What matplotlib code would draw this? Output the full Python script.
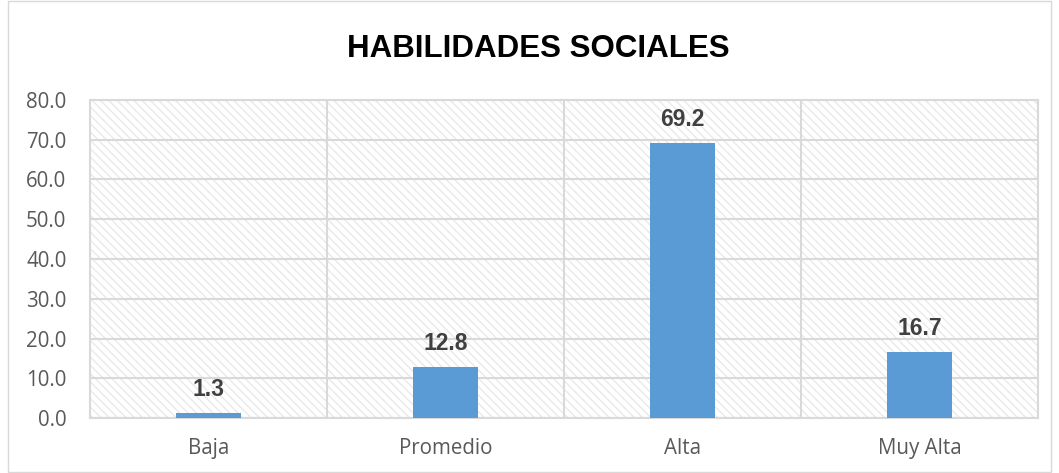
import matplotlib
matplotlib.use("Agg")
import matplotlib.pyplot as plt
from matplotlib.patches import Rectangle

categories = ["Baja", "Promedio", "Alta", "Muy Alta"]
values = [1.3, 12.8, 69.2, 16.7]
yticks = [0, 10, 20, 30, 40, 50, 60, 70, 80]
title = "HABILIDADES SOCIALES"

fig = plt.figure(figsize=(10.59, 4.73), dpi=100)
fig.patches.append(Rectangle((0.008, 0.002), 0.984, 0.996, transform=fig.transFigure,
                             fill=False, edgecolor="#d9d9d9", linewidth=1.0))
ax = fig.add_axes([0.085, 0.116, 0.895, 0.673])

grid_c = "#d9d9d9"
ax.set_xlim(-0.5, len(categories) - 0.5)
ax.set_ylim(0, 80)

bg = Rectangle((0, 0), 1, 1, transform=ax.transAxes, facecolor="white",
               edgecolor="#e9e9e9", hatch="\\\\\\\\", linewidth=0, zorder=0)
ax.add_patch(bg)
ax.patch.set_visible(False)

x = list(range(len(categories)))
ax.bar(x, values, width=0.275, color="#5B9BD5", zorder=3)

for xi, v in zip(x, values):
    ax.text(xi, v + 3.0, f"{v:.1f}", ha="center", va="bottom", fontsize=16.5,
            fontweight="bold", color="#404040", family="Liberation Sans", zorder=4)

for yv in yticks:
    ax.axhline(yv, color=grid_c, linewidth=1.5, zorder=1)
for b in [0.5, 1.5, 2.5]:
    ax.axvline(b, color=grid_c, linewidth=1.5, zorder=1)

for s in ax.spines.values():
    s.set_color(grid_c)
    s.set_linewidth(1.5)

ax.set_yticks(yticks)
ax.set_yticklabels([f"{t:.1f}" for t in yticks], family="Open Sans", fontsize=14.8, color="#595959")
ax.set_xticks(x)
ax.set_xticklabels(categories, family="Open Sans", fontsize=14.8, color="#595959")
ax.tick_params(axis="both", length=0)
ax.tick_params(axis="x", pad=14)
ax.tick_params(axis="y", pad=17)
for lbl in ax.get_yticklabels():
    lbl.set_horizontalalignment("right")

fig.text(0.508, 0.897, title, ha="center", va="center", fontsize=22.5,
         fontweight="bold", color="black", family="Liberation Sans")

fig.savefig("out.png", dpi=100)
